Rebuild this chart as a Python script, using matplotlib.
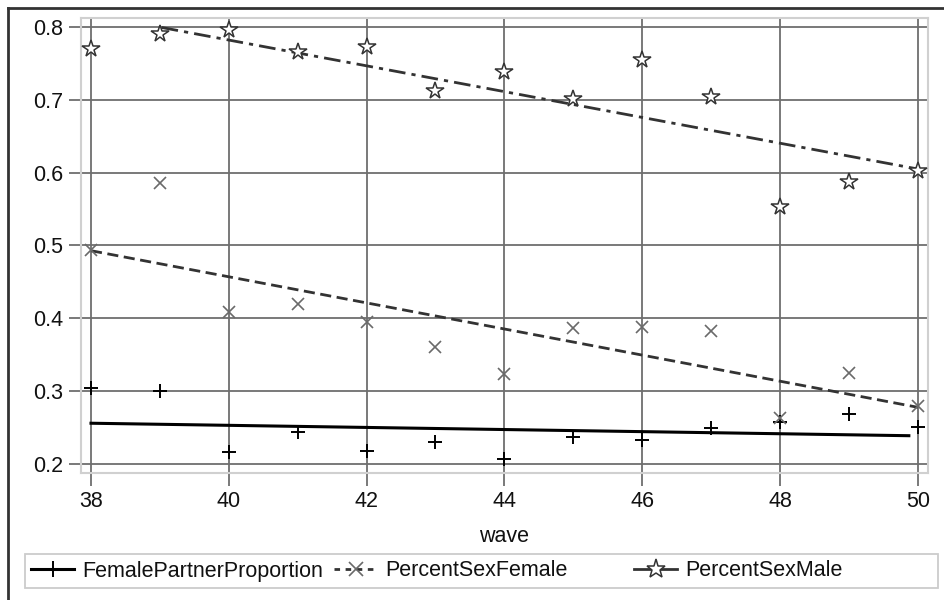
import matplotlib
matplotlib.use("Agg")
import matplotlib.pyplot as plt
from matplotlib.lines import Line2D
from matplotlib.patches import Rectangle
import numpy as np

plt.rcParams['font.family'] = ['Liberation Sans', 'DejaVu Sans']

# data
wave = [38, 39, 40, 41, 42, 43, 44, 45, 46, 47, 48, 49, 50]
female_partner = [0.304, 0.300, 0.216, 0.243, 0.217, 0.230, 0.206,
                  0.237, 0.233, 0.249, 0.257, 0.268, 0.250]
pct_female = [0.493, 0.585, 0.408, 0.420, 0.394, 0.360, 0.323,
              0.386, 0.388, 0.382, 0.263, 0.325, 0.279]
pct_male = [0.770, 0.790, 0.796, 0.765, 0.773, 0.712, 0.738,
            0.701, 0.755, 0.704, 0.553, 0.587, 0.602]

x_ticks = [38, 40, 42, 44, 46, 48, 50]
y_ticks = [0.2, 0.3, 0.4, 0.5, 0.6, 0.7, 0.8]
labels = ["FemalePartnerProportion", "PercentSexFemale", "PercentSexMale"]

FS = 15.5
TXT = '#111111'

fig = plt.figure(figsize=(9.45, 6), dpi=100)
ax = fig.add_axes([81 / 945, 1 - 473 / 600, 847 / 945, 455 / 600])

x = np.array(wave, dtype=float)


def fit_line(y, x0, x1, ymax=None):
    m, b = np.polyfit(x, y, 1)
    xs = np.linspace(x0, x1, 200)
    ys = m * xs + b
    if ymax is not None:
        keep = ys <= ymax
        xs, ys = xs[keep], ys[keep]
    return xs, ys


# regression lines
fx, fy = fit_line(female_partner, 38, 49.87)
ax.plot(fx, fy, color='black', lw=2.2, zorder=3)
fx, fy = fit_line(pct_female, 38, 50)
ax.plot(fx, fy, color='#333333', lw=2.0, dashes=(4, 2), zorder=3)
fx, fy = fit_line(pct_male, 38, 50, ymax=0.8)
ax.plot(fx, fy, color='#333333', lw=2.0, dashes=(6, 2.2, 1.5, 2.2), zorder=3)

# scatter points
ax.plot(wave, female_partner, ls='none', marker='+', ms=10, mew=1.4,
        color='black', zorder=4)
ax.plot(wave, pct_female, ls='none', marker='x', ms=9, mew=1.2,
        color='#6a6a6a', zorder=4)
ax.plot(wave, pct_male, ls='none', marker='*', ms=13, mew=1.1,
        mfc='white', mec='#333333', zorder=4)

ax.set_xlim(37.855, 50.148)
ax.set_ylim(0.1872, 0.8124)
ax.set_xticks(x_ticks)
ax.set_yticks(y_ticks)
ax.set_yticklabels([f"{v:.1f}" for v in y_ticks])
ax.grid(True, color='#6e6e6e', lw=1.3, zorder=1)
ax.set_axisbelow(True)
for s in ax.spines.values():
    s.set_color('#d0d0d0')
    s.set_linewidth(1.5)
ax.tick_params(axis='both', length=9, width=1.3, color='#6e6e6e',
               labelsize=FS, labelcolor=TXT, pad=4)
ax.set_xlabel("wave", fontsize=FS, color=TXT, labelpad=10)

# legend box and entries
fig.add_artist(Rectangle((25 / 945, 1 - 588 / 600), 913 / 945, 34 / 600,
                         transform=fig.transFigure, fill=False,
                         edgecolor='#cccccc', lw=1.3))
handles = [
    Line2D([], [], color='black', lw=2.2, marker='+', ms=11, mew=1.4),
    Line2D([], [], color='#333333', lw=2.0, dashes=(2, 2), marker='x',
           ms=10, mew=1.2, mec='#6a6a6a'),
    Line2D([], [], color='#333333', lw=2.0, marker='*', ms=14, mew=1.1,
           mfc='white', mec='#333333'),
]
legend_x = [31, 334, 634]
for h, lab, lx in zip(handles, labels, legend_x):
    lg = fig.legend([h], [lab], loc='center left',
                    bbox_to_anchor=(lx / 945, 1 - 571 / 600),
                    frameon=False, fontsize=FS, handlelength=2.0,
                    handletextpad=0.4, borderpad=0, borderaxespad=0)
    for t in lg.get_texts():
        t.set_color(TXT)

# outer frame (left and top edges)
fig.add_artist(Line2D([8 / 945, 8 / 945], [0, 1 - 8 / 600],
                      transform=fig.transFigure, color='#333333', lw=2))
fig.add_artist(Line2D([8 / 945, 1], [1 - 8 / 600, 1 - 8 / 600],
                      transform=fig.transFigure, color='#333333', lw=2))

fig.savefig("out.png", dpi=100)
